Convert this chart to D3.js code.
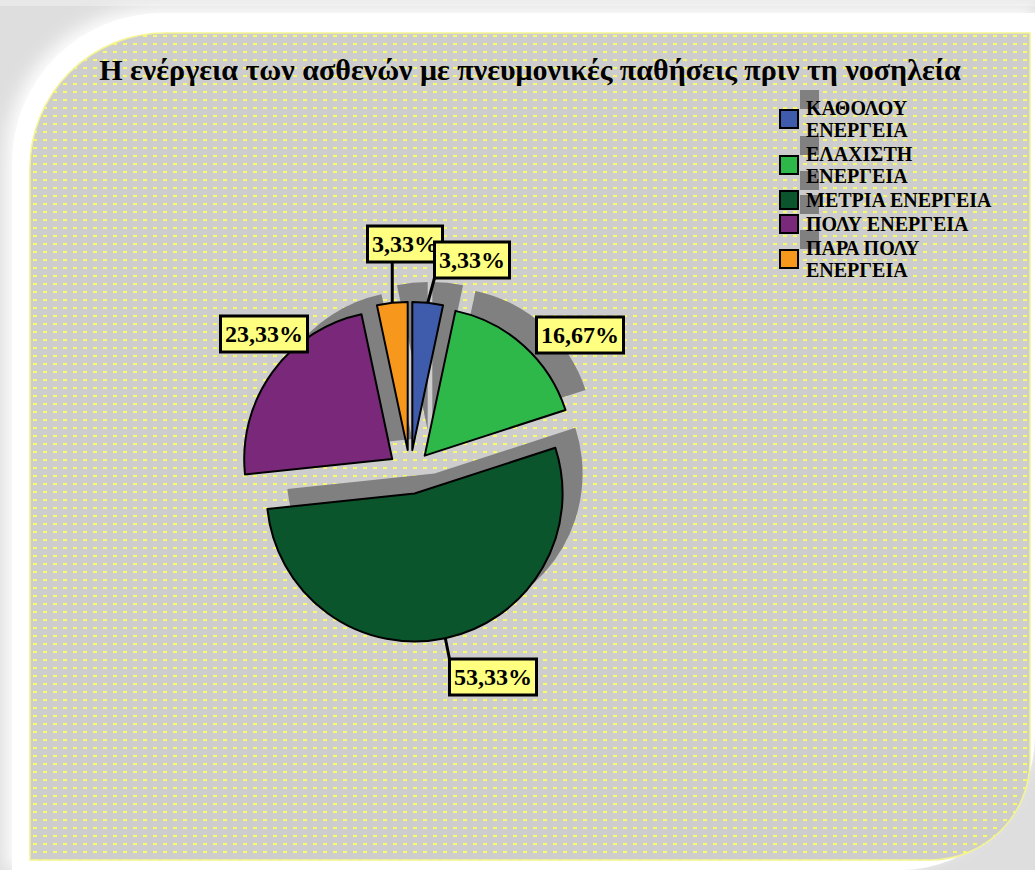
<!DOCTYPE html>
<html>
<head>
<meta charset="utf-8">
<script src="https://cdn.jsdelivr.net/npm/d3@7"></script>
<style>
  body { margin: 0; background: #ffffff; }
  svg { display: block; }
</style>
</head>
<body>
<div id="chart"></div>
<script>
// Data
const title = "Η ενέργεια των ασθενών με πνευμονικές παθήσεις πριν τη νοσηλεία";
const categories = ["ΚΑΘΟΛΟΥ ΕΝΕΡΓΕΙΑ", "ΕΛΑΧΙΣΤΗ ΕΝΕΡΓΕΙΑ", "ΜΕΤΡΙΑ ΕΝΕΡΓΕΙΑ", "ΠΟΛΥ ΕΝΕΡΓΕΙΑ", "ΠΑΡΑ ΠΟΛΥ ΕΝΕΡΓΕΙΑ"];
const values = [3.33, 16.67, 53.33, 23.33, 3.33];
const colors = ["#3f5bab", "#2fb84a", "#0a552b", "#7a297a", "#f7981d"];

// Layout (where each data label box sits, relative to the pie centre)
const labelOffsets = [[62, -212], [170, -137], [83, 205], [-146, -138], [-5, -228]];
const hasLeader = [true, false, true, false, true];

let width = 1035, height = 870;
let cx = 410, cy = 472, radius = 148, explode = 22;
let shadowDx = 20, shadowDy = -20;

let svg = d3.select('#chart')
  .append('svg')
  .attr('width', width)
  .attr('height', height);

let defs = svg.append('defs');

// dotted fill of the plot area
let pat = defs.append('pattern')
  .attr('id', 'dots')
  .attr('width', 10)
  .attr('height', 8)
  .attr('patternUnits', 'userSpaceOnUse');
pat.append('rect').attr('width', 10).attr('height', 8).attr('fill', '#cdcdcd');
pat.append('rect').attr('x', 3).attr('y', 3).attr('width', 4).attr('height', 2).attr('fill', '#fbfb6a');

defs.append('filter')
  .attr('id', 'soft')
  .attr('x', '-10%').attr('y', '-10%').attr('width', '120%').attr('height', '120%')
  .append('feGaussianBlur')
  .attr('stdDeviation', 9);

// rectangle with rounded top-left and bottom-right corners
function frame(x0, y0, x1, y1, rTL, rBR) {
  return `M${x0},${y0 + rTL} A${rTL},${rTL} 0 0 1 ${x0 + rTL},${y0}` +
         ` L${x1},${y0} L${x1},${y1 - rBR}` +
         ` A${rBR},${rBR} 0 0 1 ${x1 - rBR},${y1}` +
         ` L${x0},${y1} Z`;
}

// outer grey page with a soft white panel
svg.append('rect')
  .attr('width', width)
  .attr('height', height)
  .attr('fill', '#dedede');
svg.append('rect')
  .attr('width', width)
  .attr('height', 6)
  .attr('fill', '#e8e8e8');
svg.append('path')
  .attr('d', frame(6, 8, 1035, 870, 150, 160))
  .attr('fill', '#ffffff')
  .attr('filter', 'url(#soft)');
svg.append('path')
  .attr('d', frame(12, 13, 1035, 870, 150, 135))
  .attr('fill', '#ffffff');

// plot area
svg.append('path')
  .attr('d', frame(30, 33, 1030, 860, 135, 100))
  .attr('fill', 'url(#dots)')
  .attr('stroke', '#f4f490')
  .attr('stroke-width', 1.5);

// title
svg.append('text')
  .attr('x', 530)
  .attr('y', 80)
  .attr('text-anchor', 'middle')
  .style('font-family', '"Liberation Serif", "Times New Roman", serif')
  .style('font-weight', 'bold')
  .style('font-size', '30px')
  .text(title);

// pie
let pie = d3.pie().sort(null).value(d => d);
let arcs = pie(values);
let arc = d3.arc().innerRadius(0).outerRadius(radius);

let mid = d => (d.startAngle + d.endAngle) / 2;
let offX = d => Math.sin(mid(d)) * explode;
let offY = d => -Math.cos(mid(d)) * explode;

let pieG = svg.append('g').attr('transform', `translate(${cx},${cy})`);

// shadows first
pieG.selectAll('.shadow')
  .data(arcs)
  .enter()
  .append('path')
  .attr('class', 'shadow')
  .attr('d', arc)
  .attr('transform', d => `translate(${offX(d) + shadowDx},${offY(d) + shadowDy})`)
  .attr('fill', '#808080');

pieG.selectAll('.slice')
  .data(arcs)
  .enter()
  .append('path')
  .attr('class', 'slice')
  .attr('d', arc)
  .attr('transform', d => `translate(${offX(d)},${offY(d)})`)
  .attr('fill', (d, i) => colors[i])
  .attr('stroke', 'black')
  .attr('stroke-width', 2)
  .attr('stroke-linejoin', 'round');

// data labels (drawn last-to-first so the first label sits on top)
let fmt = v => d3.format('.2f')(v).replace('.', ',') + '%';

arcs.slice().reverse().forEach(d => {
  let i = d.index;
  let lx = labelOffsets[i][0], ly = labelOffsets[i][1];
  let g = pieG.append('g');

  let t = g.append('text')
    .attr('x', lx)
    .attr('y', ly)
    .attr('dy', '0.35em')
    .attr('text-anchor', 'middle')
    .style('font-family', '"Liberation Serif", "Times New Roman", serif')
    .style('font-weight', 'bold')
    .style('font-size', '24px')
    .text(fmt(d.value));

  let tw = t.node().getComputedTextLength();
  let bw = tw + 9, bh = 36;

  if (hasLeader[i]) {
    let ax = offX(d) + Math.sin(mid(d)) * radius;
    let ay = offY(d) - Math.cos(mid(d)) * radius;
    // nearest point on the label box
    let bx = Math.max(lx - bw / 2, Math.min(ax, lx + bw / 2));
    let by = Math.max(ly - bh / 2, Math.min(ay, ly + bh / 2));
    g.insert('line', 'text')
      .attr('x1', ax).attr('y1', ay)
      .attr('x2', bx).attr('y2', by)
      .attr('stroke', 'black')
      .attr('stroke-width', 3);
  }

  g.insert('rect', 'text')
    .attr('x', lx - bw / 2)
    .attr('y', ly - bh / 2)
    .attr('width', bw)
    .attr('height', bh)
    .attr('fill', '#ffff80')
    .attr('stroke', 'black')
    .attr('stroke-width', 3);
});

// legend
let legend = svg.append('g').attr('transform', 'translate(780, 0)');
let lineH = 22, gap = 2, maxW = 196;
let y = 115;

categories.forEach((name, i) => {
  let t = legend.append('text')
    .attr('x', 26)
    .attr('y', y)
    .style('font-family', '"Liberation Serif", "Times New Roman", serif')
    .style('font-weight', 'bold')
    .style('font-size', '20px');

  // wrap words onto lines no wider than maxW
  let words = name.split(' ');
  let lines = [];
  let cur = '';
  words.forEach(w => {
    let test = cur ? cur + ' ' + w : w;
    t.text(test);
    if (cur && t.node().getComputedTextLength() > maxW) {
      lines.push(cur);
      cur = w;
    } else {
      cur = test;
    }
  });
  lines.push(cur);
  t.text(null);
  lines.forEach((ln, j) => {
    t.append('tspan')
      .attr('x', 26)
      .attr('y', y + j * lineH)
      .text(ln);
  });

  let keyMid = y + (lines.length - 1) * lineH / 2 - 7;

  legend.insert('rect', ':first-child')
    .attr('x', shadowDx)
    .attr('y', keyMid - 9 + shadowDy)
    .attr('width', 19)
    .attr('height', 19)
    .attr('fill', '#808080');

  legend.append('rect')
    .attr('x', 0)
    .attr('y', keyMid - 9)
    .attr('width', 18)
    .attr('height', 18)
    .attr('fill', colors[i])
    .attr('stroke', 'black')
    .attr('stroke-width', 2);

  y += lines.length * lineH + gap;
});
</script>
</body>
</html>
